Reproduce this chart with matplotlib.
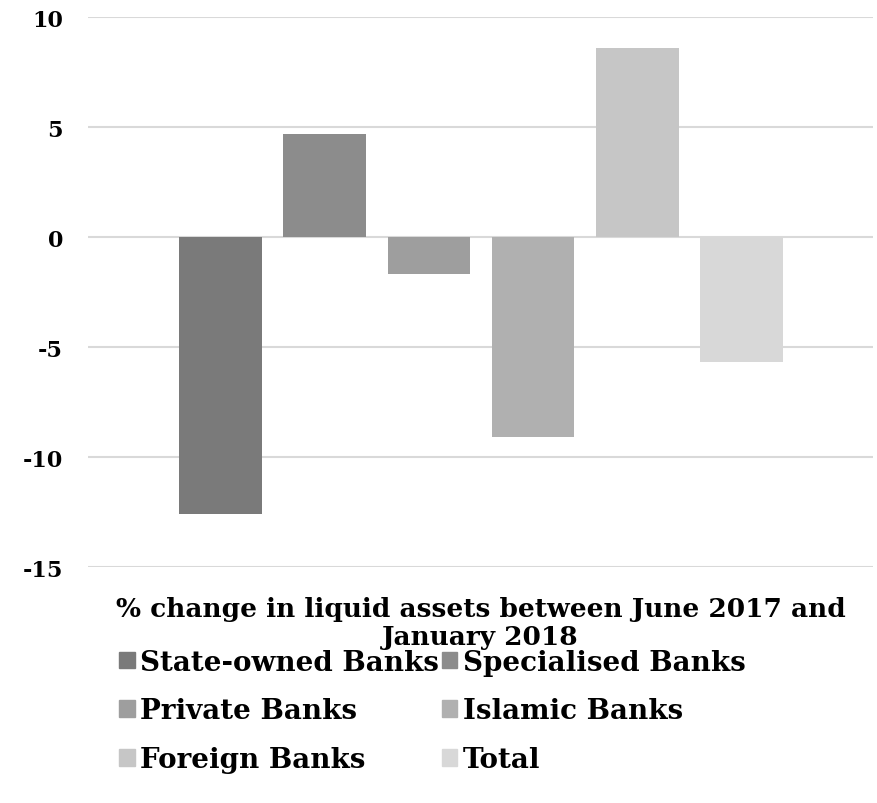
import matplotlib.pyplot as plt
import matplotlib.patches as mpatches

categories = ['State-owned Banks', 'Specialised Banks', 'Private Banks',
              'Islamic Banks', 'Foreign Banks', 'Total']
pct_change = [-12.6, 4.7, -1.7, -9.1, 8.6, -5.7]
bar_colors = ['#7a7a7a', '#8c8c8c', '#9e9e9e', '#b0b0b0', '#c6c6c6', '#d8d8d8']
y_ticks = [-15, -10, -5, 0, 5, 10]

plt.rcParams['font.family'] = ['DejaVu Serif']
plt.rcParams['font.weight'] = 'bold'

fig = plt.figure(figsize=(8.77, 8.04), dpi=100)
ax = fig.add_axes([0.1003, 0.2935, 0.8951, 0.6841])

x = range(len(categories))
ax.bar(x, pct_change, width=0.79, color=bar_colors, zorder=3)

ax.set_ylim(-15, 10)
ax.set_xlim(-1.27, 6.26)
ax.set_yticks(y_ticks)
ax.set_yticklabels([str(t) for t in y_ticks], fontsize=16, fontweight='bold')
ax.set_xticks([])
ax.grid(axis='y', color='#d9d9d9', linewidth=1.5, zorder=0)
ax.tick_params(axis='y', length=0, pad=18)
for s in ax.spines.values():
    s.set_visible(False)

fig.text(0.548, 0.2245, '% change in liquid assets between June 2017 and\nJanuary 2018',
         ha='center', va='center', fontsize=19, fontweight='bold', linespacing=1.18)

# legend fills column-first, so reorder to read row by row like the original
order = [0, 2, 4, 1, 3, 5]
handles = [mpatches.Patch(color=bar_colors[i], label=categories[i]) for i in order]
fig.legend(handles=handles, loc='center', bbox_to_anchor=(0.493, 0.1145), ncol=2,
           frameon=False, fontsize=20, handlelength=0.55, handleheight=0.55,
           handletextpad=0.2, columnspacing=0.1, labelspacing=0.78)

plt.savefig('out.png', dpi=100)
